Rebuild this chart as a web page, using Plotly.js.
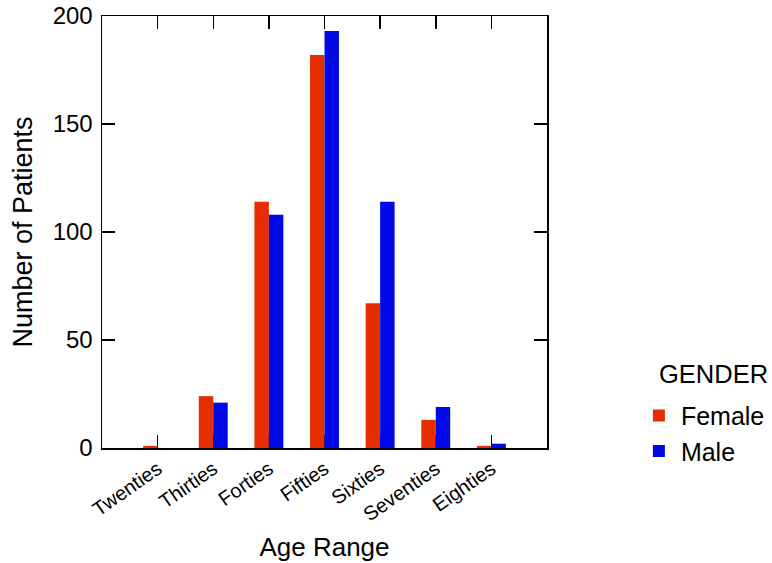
<!DOCTYPE html>
<html>
<head>
<meta charset="utf-8">
<script src="https://cdn.plot.ly/plotly-3.0.1.min.js"></script>
<style>
  html, body { margin: 0; padding: 0; background: #fff; }
  #chart { width: 772px; height: 563px; }
</style>
</head>
<body>
<div id="chart"></div>
<script>
// Patient counts by age range and gender
const ageRanges = ["Twenties", "Thirties", "Forties", "Fifties", "Sixties", "Seventies", "Eighties"];
const femaleCounts = [1, 24, 114, 182, 67, 13, 1];
const maleCounts = [0, 21, 108, 193, 114, 19, 2];
const yTickValues = [0, 50, 100, 150, 200];

const FONT = "Liberation Sans, Arial, sans-serif";

const traces = [
  {
    type: "bar",
    name: "Female",
    x: ageRanges.map((_, i) => i),
    y: femaleCounts,
    marker: { color: "#e62e00", line: { width: 0 } }
  },
  {
    type: "bar",
    name: "Male",
    x: ageRanges.map((_, i) => i),
    y: maleCounts,
    marker: { color: "#000ae6", line: { width: 0 } }
  }
];

const layout = {
  width: 772,
  height: 563,
  margin: { l: 102, r: 225, t: 16, b: 115, autoexpand: false },
  paper_bgcolor: "#fff",
  plot_bgcolor: "#fff",
  font: { family: FONT, color: "#000" },
  barmode: "group",
  bargap: 0.48,
  bargroupgap: 0,
  showlegend: true,
  legend: {
    x: 1.202, xanchor: "left",
    y: 0.034, yanchor: "middle",
    font: { family: FONT, size: 25, color: "#000" },
    tracegroupgap: 0,
    itemwidth: 34,
    bgcolor: "rgba(0,0,0,0)"
  },
  annotations: [
    {
      text: "GENDER",
      xref: "paper", yref: "paper",
      x: 1.248, xanchor: "left",
      y: 0.171, yanchor: "middle",
      showarrow: false,
      font: { family: FONT, size: 25.5, color: "#000" }
    }
  ],
  xaxis: {
    range: [-1, 7],
    automargin: false,
    tickmode: "array",
    tickvals: ageRanges.map((_, i) => i),
    ticktext: ageRanges,
    tickangle: -35,
    ticks: "inside",
    ticklen: 13,
    tickwidth: 1.5,
    tickcolor: "#000",
    showline: true,
    linecolor: "#000",
    linewidth: 1.5,
    mirror: "ticks",
    showgrid: false,
    zeroline: false,
    layer: "below traces",
    tickfont: { family: FONT, size: 20, color: "#000" },
    title: { text: "Age Range", font: { family: FONT, size: 26, color: "#000" }, standoff: 13 }
  },
  yaxis: {
    range: [0, 200],
    automargin: false,
    tickmode: "array",
    tickvals: yTickValues,
    ticks: "inside",
    ticklen: 13,
    tickwidth: 1.5,
    tickcolor: "#000",
    showline: true,
    linecolor: "#000",
    linewidth: 1.5,
    mirror: "ticks",
    showgrid: false,
    zeroline: false,
    layer: "below traces",
    ticklabelstandoff: 3,
    tickfont: { family: FONT, size: 24, color: "#000" },
    title: { text: "Number of Patients", font: { family: FONT, size: 27, color: "#000" }, standoff: 12 }
  }
};

Plotly.newPlot("chart", traces, layout, { displayModeBar: false, staticPlot: true });
</script>
</body>
</html>
